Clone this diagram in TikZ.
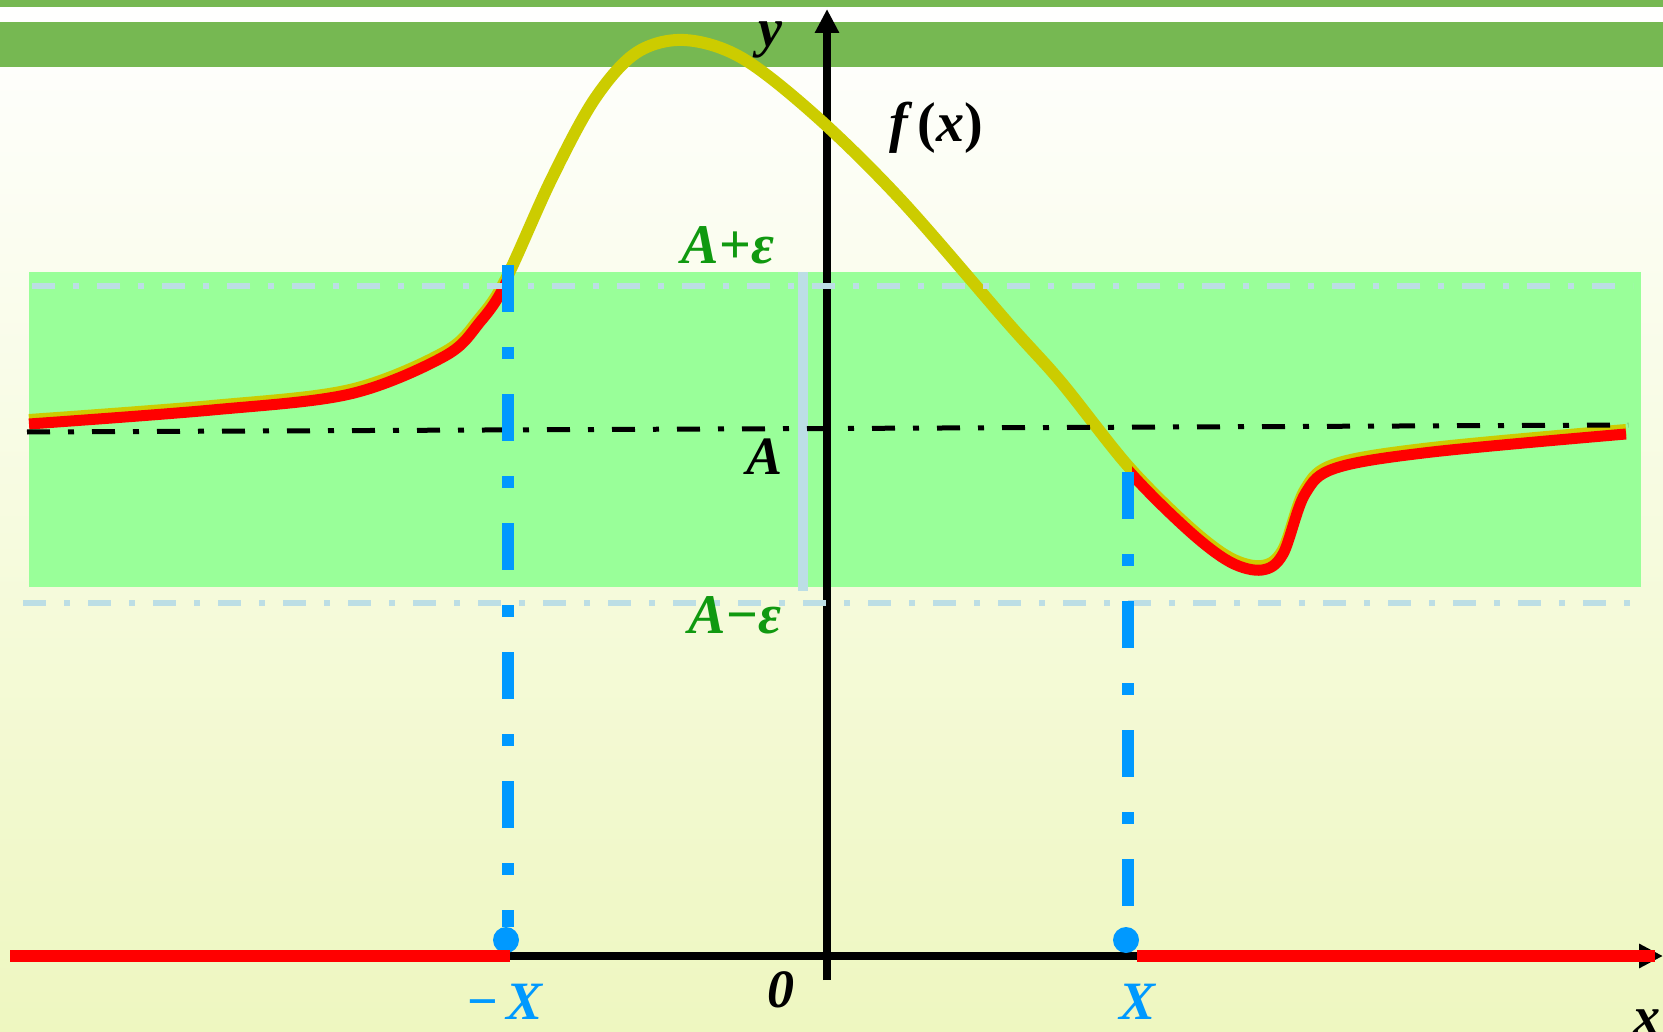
\documentclass[tikz,border=0pt]{standalone}
\usepackage{fontspec}
\setmainfont{Liberation Serif}
\usepackage{xcolor}
\usepackage{tikz}
\usetikzlibrary{
  arrows.meta,
  positioning
}
\definecolor{LimTop}{HTML}{76B852}
\definecolor{LimBand}{HTML}{99FF99}
\definecolor{LimPale}{HTML}{BCDEE5}
\definecolor{LimBlue}{HTML}{0099FF}
\definecolor{LimRed}{HTML}{FF0000}
\definecolor{LimYellow}{HTML}{CCCC00}
\definecolor{LimGreen}{HTML}{109910}
\definecolor{LimFloor}{HTML}{EEF7C0}

\begin{document}
\begin{tikzpicture}[x=1pt,y=-1pt,
    axisline/.style={line width=8pt,-{Triangle[length=24pt,width=23pt]}},
    epsline/.style={line width=6pt,LimPale,dash pattern=on 23pt off 18pt on 6pt off 18pt},
    limline/.style={line width=5pt,black,dash pattern=on 23pt off 18pt on 6pt off 18pt},
    dropline/.style={line width=12pt,LimBlue,dash pattern=on 47pt off 35pt on 12pt off 35pt},
    bdot/.style={circle,fill=LimBlue,inner sep=0pt,minimum size=26pt},
    lbl/.style={inner sep=0pt,font=\fontsize{54}{60}\selectfont\bfseries\itshape}
  ]
    \useasboundingbox (0,0) rectangle (1663,1032);
    % background and top bands
    \shade[top color=white,bottom color=LimFloor] (0,0) rectangle (1663,1032);
    \fill[LimTop] (0,0) rectangle (1663,7);
    \fill[LimTop] (0,22) rectangle (1663,67);
    % the epsilon strip
    \fill[LimBand] (29,272) rectangle (1641,587);
    \fill[LimPale] (798,272) rectangle (808,591);

    % axes
    \coordinate (xs) at (10,956);
    \coordinate (xe) at (1663,956);
    \coordinate (ys) at (827,980);
    \coordinate (ye) at (827,9);
    \draw[axisline] (xs) -- (xe);
    \draw[axisline] (ys) -- (ye);

    % the function
    \draw[line width=12pt,LimYellow] plot[smooth,tension=0.55] coordinates {
      (29,420) (212,406) (350,390) (445,352) (480,318) (506,279) (551,180)
      (594,100) (636,53) (684,40) (742,58) (817,117) (902,201) (1008,323)
      (1061,382) (1128,466) (1188,526) (1230,558) (1262,566) (1283,550)
      (1305,490) (1336,464) (1432,448) (1626,430)};
    \begin{scope}
      \clip (0,0) rectangle (505,1032) (1132,0) rectangle (1663,1032);
      \draw[line width=11pt,LimRed,shift={(0,4)}] plot[smooth,tension=0.55] coordinates {
        (29,420) (212,406) (350,390) (445,352) (480,318) (506,279) (551,180)
        (594,100) (636,53) (684,40) (742,58) (817,117) (902,201) (1008,323)
        (1061,382) (1128,466) (1188,526) (1230,558) (1262,566) (1283,550)
        (1305,490) (1336,464) (1432,448) (1626,430)};
    \end{scope}

    % limit A and A +/- eps
    \coordinate (al) at (27,432);
    \coordinate (ar) at (1628,425);
    \draw[limline] (al) -- (ar);
    \coordinate (ul) at (32,286);
    \coordinate (ur) at (1633,286);
    \coordinate (dl) at (23,603);
    \coordinate (dr) at (1633,603);
    \draw[epsline] (ul) -- (ur);
    \draw[epsline] (dl) -- (dr);

    % -X and X
    \node[bdot] (mX) at (506,940) {};
    \node[bdot] (pX) at (1126,940) {};
    \coordinate (mtop) at (508,265);
    \coordinate (ptop) at (1128,472);
    \draw[dropline] (mtop) -- (mtop |- mX.north);
    \draw[dropline] (ptop) -- (ptop |- pX.north);
    \draw[line width=12pt,LimRed] (xs) -- (510,956);
    \draw[line width=12pt,LimRed] (1137,956) -- (1655,956);

    % labels
    \node[lbl] (ylab) at (770,40) {y};
    \node[lbl,font=\fontsize{56}{62}\selectfont\bfseries\itshape] (flab) at (936,128) {f\,\textup{(}x\textup{)}};
    \node[lbl,font=\fontsize{56}{62}\selectfont\bfseries\itshape,text=LimGreen] (uplab) at (728,245) {A\textup{+}ε};
    \node[lbl] (alab) at (765,457) {A};
    \node[lbl,font=\fontsize{56}{62}\selectfont\bfseries\itshape,text=LimGreen] (dnlab) at (735,615) {A\textup{−}ε};
    \node[lbl,text=LimBlue] (mXlab) at (505,1002) {\textup{−}\,X};
    \node[lbl,text=LimBlue] (pXlab) at (1137,1002) {X};
    \node[lbl] (olab) at (781,990) {0};
    \node[lbl] (xlab) at (1647,1022) {x};
  \end{tikzpicture}
\end{document}
